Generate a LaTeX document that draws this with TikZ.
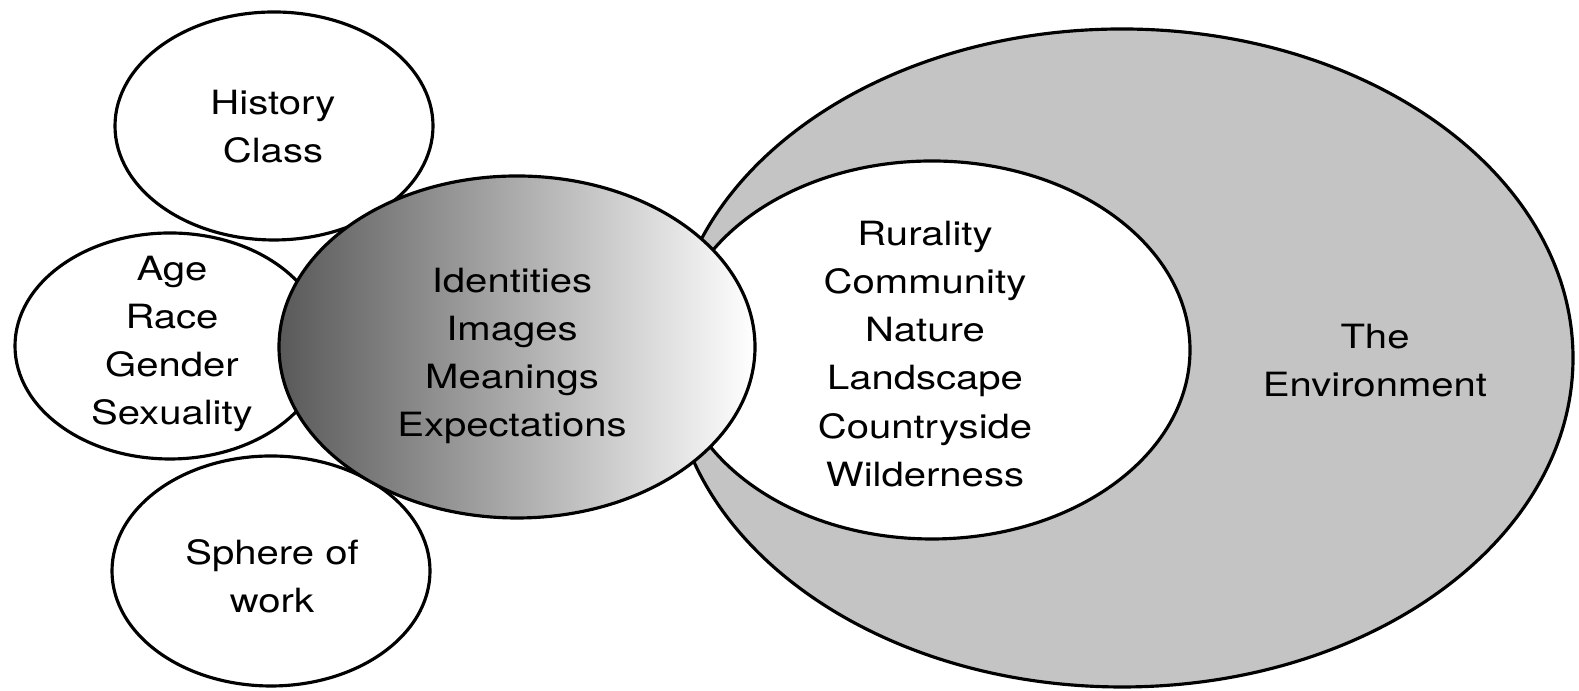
\documentclass[tikz,border=0pt]{standalone}
\usepackage{fontspec}
\setmainfont{TeX Gyre Heros}[FakeStretch=1.2]
\usepackage{tikz}

\begin{document}
\begin{tikzpicture}[line width=0.9pt,
  oval/.style={draw, fill=white},
  words/.style={align=center, inner sep=0pt, font=\fontsize{9.5}{13.7}\selectfont}]

\useasboundingbox (0,0) rectangle (15.79,6.91);

\draw [fill=black!23] (11.22,3.33) ellipse [x radius=4.51, y radius=3.29];
\draw [oval] (9.32,3.41) ellipse [x radius=2.58, y radius=1.89];

\draw [oval] (2.74,5.65) ellipse [x radius=1.59, y radius=1.14];
\draw [oval] (1.70,3.45) ellipse [x radius=1.55, y radius=1.13];
\draw [oval] (2.71,1.20) ellipse [x radius=1.59, y radius=1.15];

\draw [left color=black!65, right color=white] (5.17,3.44) ellipse [x radius=2.38, y radius=1.71];

\node [words] (history) at (2.73,5.64) {History\\Class};
\node [words] (social) at (1.72,3.47) {Age\\Race\\Gender\\Sexuality};
\node [words] (work) at (2.72,1.15) {Sphere of\\work};
\node [words] (ident) at (5.12,3.35) {Identities\\Images\\Meanings\\Expectations};
\node [words] (rural) at (9.25,3.37) {Rurality\\Community\\Nature\\Landscape\\Countryside\\Wilderness};
\node [words] (env) at (13.75,3.30) {The\\Environment};
\end{tikzpicture}
\end{document}
